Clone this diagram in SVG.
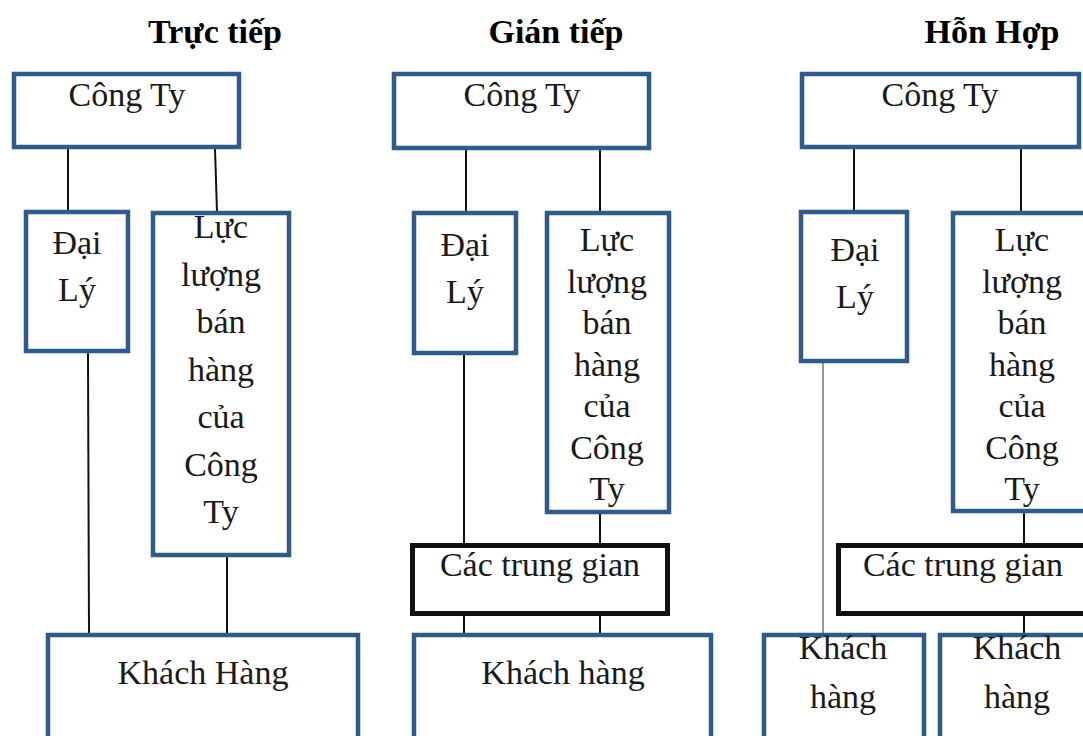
<svg xmlns="http://www.w3.org/2000/svg" width="1083" height="736" viewBox="0 0 1083 736">
  <style>
    .box { fill: #ffffff; stroke: #2E5A8C; stroke-width: 4.5; }
    .mid { fill: #ffffff; stroke: #111111; stroke-width: 5; }
    .lbl { font-family: "Liberation Serif", "Times New Roman", serif; font-size: 34px; fill: #1a1a1a; text-anchor: middle; }
    .ttl { font-family: "Liberation Serif", "Times New Roman", serif; font-size: 34px; font-weight: bold; fill: #000000; text-anchor: middle; }
    .ln { stroke: #111111; stroke-width: 2; fill: none; }
  </style>
  <rect width="1083" height="736" fill="#ffffff"/>

  <!-- column headings -->
  <text class="ttl" x="215" y="43">Trực tiếp</text>
  <text class="ttl" x="556" y="43">Gián tiếp</text>
  <text class="ttl" x="992" y="43">Hỗn Hợp</text>

  <!-- connectors -->
  <g id="connectors">
    <!-- direct -->
    <line class="ln" x1="68" y1="149" x2="68" y2="212"/>
    <line class="ln" x1="215" y1="149" x2="217" y2="212"/>
    <line class="ln" x1="88" y1="353" x2="89" y2="635"/>
    <line class="ln" x1="227" y1="557" x2="227" y2="635"/>
    <!-- indirect -->
    <line class="ln" x1="466" y1="150" x2="466" y2="212"/>
    <line class="ln" x1="600" y1="150" x2="600" y2="212"/>
    <line class="ln" x1="464" y1="355" x2="464" y2="545"/>
    <line class="ln" x1="600" y1="514" x2="600" y2="545"/>
    <line class="ln" x1="464" y1="616" x2="464" y2="635"/>
    <line class="ln" x1="600" y1="616" x2="600" y2="635"/>
    <line x1="578" y1="480" x2="578" y2="513" stroke="#4A7EBB" stroke-width="1.5"/>
    <!-- mixed -->
    <line class="ln" x1="854" y1="149" x2="854" y2="212"/>
    <line class="ln" x1="1021" y1="149" x2="1021" y2="212"/>
    <line x1="823" y1="363" x2="823" y2="635" stroke="#777777" stroke-width="1.5"/>
    <line class="ln" x1="1024" y1="513" x2="1024" y2="545"/>
    <line class="ln" x1="1024" y1="616" x2="1024" y2="635"/>
  </g>

  <!-- direct channel -->
  <g id="d-company">
    <rect class="box" x="14" y="74" width="225" height="73"/>
    <text class="lbl" x="127" y="106">Công Ty</text>
  </g>
  <g id="d-agent">
    <rect class="box" x="26" y="212" width="102" height="139"/>
    <text class="lbl" x="77" y="254">Đại</text>
    <text class="lbl" x="77" y="301">Lý</text>
  </g>
  <g id="d-salesforce">
    <rect class="box" x="153" y="213" width="136" height="342"/>
    <text class="lbl" x="221" y="238">Lực</text>
    <text class="lbl" x="221" y="285.5">lượng</text>
    <text class="lbl" x="221" y="333">bán</text>
    <text class="lbl" x="221" y="380.5">hàng</text>
    <text class="lbl" x="221" y="428">của</text>
    <text class="lbl" x="221" y="475.5">Công</text>
    <text class="lbl" x="221" y="523">Ty</text>
  </g>
  <g id="d-customer">
    <rect class="box" x="48" y="635" width="310" height="130"/>
    <text class="lbl" x="203" y="684">Khách Hàng</text>
  </g>

  <!-- indirect channel -->
  <g id="i-company">
    <rect class="box" x="394" y="74" width="255" height="74"/>
    <text class="lbl" x="522" y="106">Công Ty</text>
  </g>
  <g id="i-agent">
    <rect class="box" x="414" y="213" width="102" height="140"/>
    <text class="lbl" x="465" y="256">Đại</text>
    <text class="lbl" x="465" y="303">Lý</text>
  </g>
  <g id="i-salesforce">
    <rect class="box" x="547" y="213" width="122" height="299"/>
    <text class="lbl" x="607" y="251">Lực</text>
    <text class="lbl" x="607" y="292.5">lượng</text>
    <text class="lbl" x="607" y="334">bán</text>
    <text class="lbl" x="607" y="375.5">hàng</text>
    <text class="lbl" x="607" y="417">của</text>
    <text class="lbl" x="607" y="458.5">Công</text>
    <text class="lbl" x="607" y="500">Ty</text>
  </g>
  <g id="i-intermediaries">
    <rect class="mid" x="412.5" y="545.5" width="255" height="68"/>
    <text class="lbl" x="540" y="576">Các trung gian</text>
  </g>
  <g id="i-customer">
    <rect class="box" x="414" y="635" width="297" height="130"/>
    <text class="lbl" x="563" y="684">Khách hàng</text>
  </g>

  <!-- mixed channel -->
  <g id="m-company">
    <rect class="box" x="802" y="74" width="277" height="73"/>
    <text class="lbl" x="940" y="106">Công Ty</text>
  </g>
  <g id="m-agent">
    <rect class="box" x="801" y="212" width="106" height="149"/>
    <text class="lbl" x="855" y="261">Đại</text>
    <text class="lbl" x="855" y="308">Lý</text>
  </g>
  <g id="m-salesforce">
    <rect class="box" x="953" y="213" width="140" height="298"/>
    <text class="lbl" x="1022" y="251">Lực</text>
    <text class="lbl" x="1022" y="292.5">lượng</text>
    <text class="lbl" x="1022" y="334">bán</text>
    <text class="lbl" x="1022" y="375.5">hàng</text>
    <text class="lbl" x="1022" y="417">của</text>
    <text class="lbl" x="1022" y="458.5">Công</text>
    <text class="lbl" x="1022" y="500">Ty</text>
  </g>
  <g id="m-intermediaries">
    <rect class="mid" x="838.5" y="545.5" width="260" height="68"/>
    <text class="lbl" x="963" y="576">Các trung gian</text>
  </g>
  <g id="m-customer-a">
    <rect class="box" x="764" y="635" width="160" height="130"/>
    <text class="lbl" x="843" y="659">Khách</text>
    <text class="lbl" x="843" y="708">hàng</text>
  </g>
  <g id="m-customer-b">
    <rect class="box" x="940" y="635" width="160" height="130"/>
    <text class="lbl" x="1017" y="659">Khách</text>
    <text class="lbl" x="1017" y="708">hàng</text>
  </g>
</svg>
